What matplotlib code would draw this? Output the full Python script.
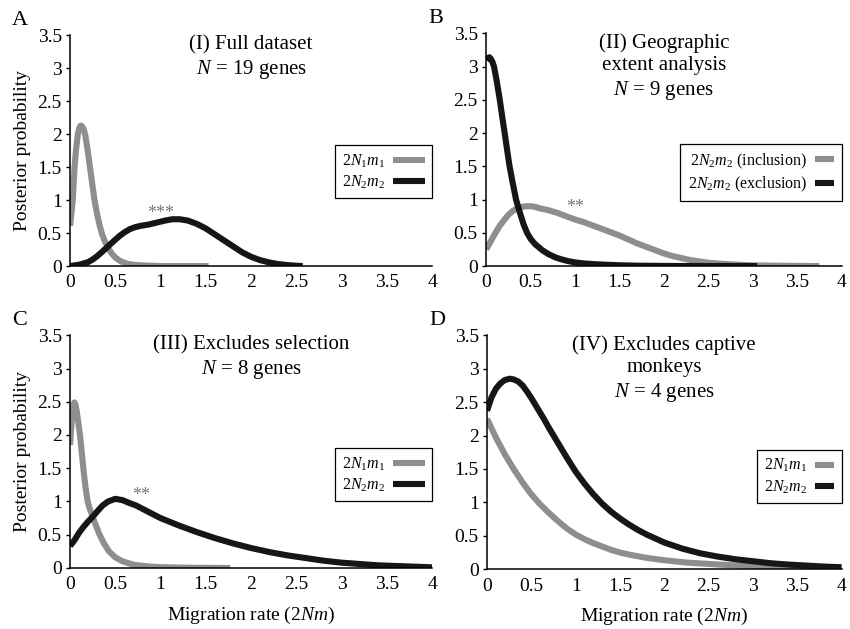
import matplotlib
matplotlib.use('Agg')
import matplotlib.pyplot as plt
from matplotlib.ticker import FuncFormatter

plt.rcParams['font.family'] = 'Liberation Serif'
plt.rcParams['mathtext.fontset'] = 'custom'
plt.rcParams['mathtext.rm'] = 'Liberation Serif'
plt.rcParams['mathtext.it'] = 'Liberation Serif:italic'

GRAY = '#8e8e8e'
BLACK = '#161616'

# panel A: full dataset
a_x1 = [0, 0.015, 0.03, 0.04, 0.05, 0.065, 0.086, 0.1, 0.112, 0.123, 0.135, 0.145, 0.157,
        0.17, 0.19, 0.21, 0.22, 0.24, 0.27, 0.3, 0.33, 0.35, 0.38, 0.42, 0.46, 0.5, 0.55,
        0.6, 0.65, 0.7, 0.8, 1.0, 1.53]
a_y1 = [0.61, 0.8, 1.0, 1.25, 1.5, 1.75, 2.0, 2.08, 2.12, 2.13, 2.11, 2.09, 2.05,
        1.97, 1.8, 1.6, 1.5, 1.3, 1.0, 0.78, 0.6, 0.5, 0.39, 0.28, 0.19, 0.13, 0.08,
        0.05, 0.03, 0.02, 0.01, 0.0, 0.0]
a_x2 = [0, 0.1, 0.2, 0.25, 0.3, 0.35, 0.42, 0.5, 0.55, 0.6, 0.66, 0.72, 0.78, 0.87, 0.96,
        1.05, 1.13, 1.21, 1.3, 1.4, 1.5, 1.6, 1.7, 1.8, 1.9, 2.0, 2.1, 2.2, 2.3, 2.4, 2.5,
        2.57]
a_y2 = [0.0, 0.02, 0.06, 0.1, 0.15, 0.21, 0.3, 0.4, 0.46, 0.51, 0.56, 0.59, 0.61, 0.63,
        0.66, 0.69, 0.71, 0.71, 0.69, 0.64, 0.57, 0.48, 0.39, 0.3, 0.21, 0.14, 0.09, 0.055,
        0.03, 0.015, 0.005, 0.0]

# panel B: geographic extent
b_x1 = [0, 0.05, 0.1, 0.15, 0.2, 0.25, 0.3, 0.35, 0.4, 0.45, 0.5, 0.55, 0.6, 0.7, 0.8,
        0.9, 1.0, 1.1, 1.2, 1.3, 1.4, 1.5, 1.6, 1.7, 1.8, 1.9, 2.0, 2.1, 2.2, 2.3, 2.4,
        2.5, 2.7, 3.0, 3.3, 3.75]
b_y1 = [0.25, 0.37, 0.49, 0.6, 0.69, 0.77, 0.83, 0.87, 0.89, 0.9, 0.9, 0.89, 0.87, 0.84,
        0.8, 0.75, 0.7, 0.66, 0.61, 0.56, 0.51, 0.46, 0.4, 0.34, 0.29, 0.24, 0.19, 0.15,
        0.12, 0.09, 0.07, 0.05, 0.03, 0.01, 0.005, 0]
b_x2 = [0, 0.02, 0.036, 0.05, 0.07, 0.088, 0.12, 0.153, 0.18, 0.208, 0.235, 0.263, 0.3,
        0.336, 0.38, 0.42, 0.46, 0.5, 0.55, 0.63, 0.7, 0.78, 0.85, 0.92, 1.0, 1.1, 1.2,
        1.35, 1.5, 1.7, 2.0, 2.5, 3.05]
b_y2 = [3.1, 3.13, 3.14, 3.12, 3.07, 3.0, 2.77, 2.5, 2.25, 2.0, 1.75, 1.5, 1.24, 1.0,
        0.8, 0.63, 0.5, 0.41, 0.33, 0.24, 0.18, 0.13, 0.1, 0.075, 0.055, 0.04, 0.03, 0.02,
        0.012, 0.006, 0.002, 0, 0]

# panel C: excludes selection
c_x1 = [0, 0.01, 0.02, 0.03, 0.04, 0.048, 0.06, 0.075, 0.09, 0.11, 0.13, 0.147, 0.17,
        0.195, 0.22, 0.25, 0.28, 0.32, 0.37, 0.43, 0.5, 0.58, 0.7, 0.85, 1.0, 1.3, 1.77]
c_y1 = [1.85, 2.05, 2.22, 2.36, 2.45, 2.49, 2.46, 2.35, 2.2, 2.0, 1.73, 1.5, 1.22,
        1.0, 0.88, 0.77, 0.66, 0.52, 0.38, 0.25, 0.16, 0.1, 0.05, 0.025, 0.012, 0.004, 0]
c_x2 = [0, 0.05, 0.1, 0.15, 0.2, 0.25, 0.3, 0.36, 0.42, 0.5, 0.58, 0.65, 0.73, 0.8, 0.9,
        1.0, 1.2, 1.4, 1.6, 1.8, 2.0, 2.2, 2.4, 2.6, 2.8, 3.0, 3.2, 3.4, 3.6, 3.8, 4.0]
c_y2 = [0.33, 0.42, 0.53, 0.62, 0.7, 0.77, 0.85, 0.94, 1.0, 1.04, 1.02, 0.98, 0.94, 0.89,
        0.82, 0.75, 0.64, 0.54, 0.45, 0.37, 0.3, 0.24, 0.19, 0.15, 0.11, 0.08, 0.06, 0.04,
        0.03, 0.02, 0.01]

# panel D: excludes captive monkeys
d_x1 = [0, 0.1, 0.2, 0.3, 0.4, 0.5, 0.6, 0.7, 0.8, 0.9, 1.0, 1.1, 1.2, 1.3, 1.4, 1.5,
        1.6, 1.8, 2.0, 2.25, 2.5, 2.75, 3.0, 3.25, 3.5, 3.75, 4.0]
d_y1 = [2.25, 1.97, 1.72, 1.5, 1.3, 1.12, 0.97, 0.84, 0.72, 0.61, 0.52, 0.45, 0.39, 0.34,
        0.29, 0.25, 0.22, 0.17, 0.135, 0.1, 0.08, 0.06, 0.05, 0.04, 0.03, 0.025, 0.02]
d_x2 = [0, 0.05, 0.1, 0.15, 0.2, 0.255, 0.3, 0.35, 0.4, 0.45, 0.5, 0.55, 0.6, 0.65, 0.7,
        0.75, 0.8, 0.85, 0.9, 1.0, 1.1, 1.2, 1.3, 1.4, 1.5, 1.6, 1.7, 1.8, 1.9, 2.0, 2.2,
        2.4, 2.6, 2.8, 3.0, 3.2, 3.4, 3.6, 3.8, 4.0]
d_y2 = [2.37, 2.57, 2.7, 2.78, 2.83, 2.85, 2.84, 2.81, 2.75, 2.66, 2.56, 2.45, 2.34, 2.23,
        2.11, 2.0, 1.89, 1.78, 1.67, 1.46, 1.28, 1.12, 0.98, 0.86, 0.76, 0.67, 0.59, 0.52,
        0.46, 0.4, 0.31, 0.24, 0.19, 0.15, 0.12, 0.09, 0.07, 0.055, 0.04, 0.03]

lbl1 = r'$2N_1m_1$'
lbl2 = r'$2N_2m_2$'
lbl_inc = r'$2N_2m_2$ (inclusion)'
lbl_exc = r'$2N_2m_2$ (exclusion)'

fig = plt.figure(figsize=(8.5, 6.29), dpi=100)

panels = [
    # letter, rect, title, series, legend top, handlelength, xlabel?, ylabel?, stars
    ('A', [0.0824, 0.577, 0.426, 0.367], '(I) Full dataset\n$N$ = 19 genes',
     [(a_x1, a_y1, GRAY, lbl1), (a_x2, a_y2, BLACK, lbl2)], 0.524, 2.0, False, True,
     ('***', 1.0, 0.80)),
    ('B', [0.572, 0.577, 0.418, 0.37], '(II) Geographic\nextent analysis\n$N$ = 9 genes',
     [(b_x1, b_y1, GRAY, lbl_inc), (b_x2, b_y2, BLACK, lbl_exc)], 0.524, 1.2, False, False,
     ('**', 1.0, 0.88)),
    ('C', [0.0824, 0.097, 0.426, 0.37], '(III) Excludes selection\n$N$ = 8 genes',
     [(c_x1, c_y1, GRAY, lbl1), (c_x2, c_y2, BLACK, lbl2)], 0.515, 2.0, True, True,
     ('**', 0.79, 1.09)),
    ('D', [0.573, 0.095, 0.417, 0.372], '(IV) Excludes captive\nmonkeys\n$N$ = 4 genes',
     [(d_x1, d_y1, GRAY, lbl1), (d_x2, d_y2, BLACK, lbl2)], 0.51, 1.2, True, False,
     None),
]

for letter, rect, title, series, leg_y, hl, xlab, ylab, stars in panels:
    ax = fig.add_axes(rect)
    for x, y, c, lab in series:
        ax.plot(x, y, color=c, lw=4.4, label=lab, solid_capstyle='butt',
                solid_joinstyle='round')
    ax.set_xlim(0, 4)
    ax.set_ylim(0, 3.5)
    ax.set_xticks([0, 0.5, 1, 1.5, 2, 2.5, 3, 3.5, 4])
    ax.set_yticks([0, 0.5, 1, 1.5, 2, 2.5, 3, 3.5])
    fmt = FuncFormatter(lambda v, p: '%g' % v)
    ax.xaxis.set_major_formatter(fmt)
    ax.yaxis.set_major_formatter(fmt)
    ax.tick_params(axis='y', length=3, width=1, pad=3, labelsize=14)
    ax.tick_params(axis='x', length=0, pad=6, labelsize=14)
    for s in ['top', 'right']:
        ax.spines[s].set_visible(False)
    for s in ['left', 'bottom']:
        ax.spines[s].set_linewidth(1.1)
    ax.text(0.5, 1.0, title, transform=ax.transAxes, ha='center', va='top',
            fontsize=15, linespacing=1.22)
    leg = ax.legend(loc='upper right', bbox_to_anchor=(1.0, leg_y), borderaxespad=0,
                    fontsize=11.5, markerfirst=False, handlelength=hl,
                    handletextpad=0.5, fancybox=False, framealpha=1,
                    edgecolor='black', borderpad=0.45, labelspacing=0.25)
    leg.get_frame().set_linewidth(0.9)
    if xlab:
        ax.set_xlabel('Migration rate (2$N$$m$)', fontsize=14, labelpad=8)
    if ylab:
        ax.set_ylabel('Posterior probability', fontsize=14, labelpad=5)
    if stars:
        ax.text(stars[1], stars[2], stars[0], color='#777777', fontsize=13,
                ha='center', va='center')
    fig.text(rect[0] - 0.068, rect[1] + rect[3] + 0.038, letter, fontsize=16,
             ha='left', va='top')

fig.savefig('out.png', dpi=100)
